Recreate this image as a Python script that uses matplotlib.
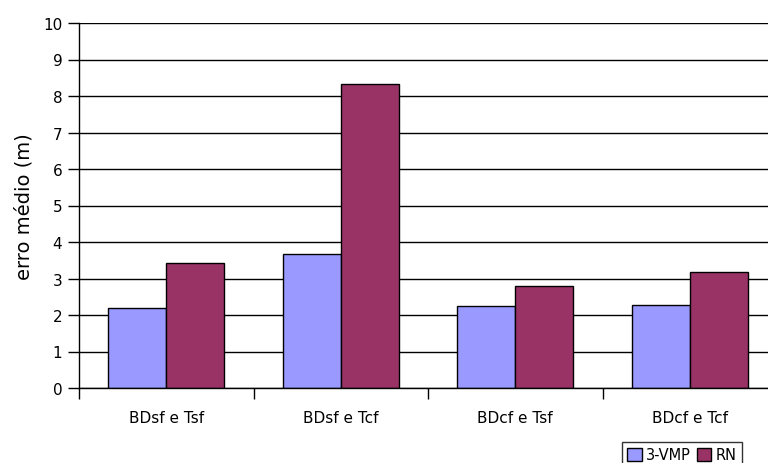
import numpy as np
import matplotlib.pyplot as plt

# valores do erro médio por combinação
categorias = ['BDsf e Tsf', 'BDsf e Tcf', 'BDcf e Tsf', 'BDcf e Tcf']
vmp = [2.18, 3.66, 2.24, 2.28]
rn = [3.43, 8.33, 2.80, 3.18]

fig = plt.figure(figsize=(7.68, 4.64), dpi=100)
ax = fig.add_axes([79 / 768, 75 / 464, 698 / 768, 365 / 464])

x = np.arange(len(categorias))
w = 1 / 3
b1 = ax.bar(x - w / 2, vmp, w, color='#9999FF', edgecolor='black', linewidth=1, label='3-VMP', zorder=3)
b2 = ax.bar(x + w / 2, rn, w, color='#993366', edgecolor='black', linewidth=1, label='RN', zorder=3)

ax.set_xlim(-0.5, len(categorias) - 0.5)
ax.set_ylim(0, 10)
ax.set_yticks(range(0, 11))
ax.yaxis.grid(True, color='black', linewidth=1, zorder=0)
ax.set_xticks(x)
ax.set_xticklabels(categorias, fontsize=11)
ax.set_xticks(np.arange(-0.5, len(categorias)), minor=True)
ax.tick_params(axis='x', which='major', length=0, pad=16)
ax.tick_params(axis='x', which='minor', length=8, width=1, direction='out')
ax.tick_params(axis='y', length=8, width=1, direction='out', labelsize=11, pad=4)
ax.set_ylabel('erro médio (m)', fontsize=14, labelpad=7)

for s in ['top', 'right']:
    ax.spines[s].set_visible(False)
ax.spines['left'].set_linewidth(1)
ax.spines['bottom'].set_linewidth(1)
ax.spines['bottom'].set_zorder(4)

leg = fig.legend(handles=[b1, b2], loc='upper left', bbox_to_anchor=(622 / 768, 1 - 443 / 464),
                 ncol=2, fontsize=10.5, frameon=True, fancybox=False, edgecolor='black',
                 handlelength=1.0, handleheight=1.0, handletextpad=0.3, columnspacing=0.4,
                 borderpad=0.35, borderaxespad=0)
leg.get_frame().set_linewidth(1)

plt.savefig('out.png', dpi=100)
plt.close()
